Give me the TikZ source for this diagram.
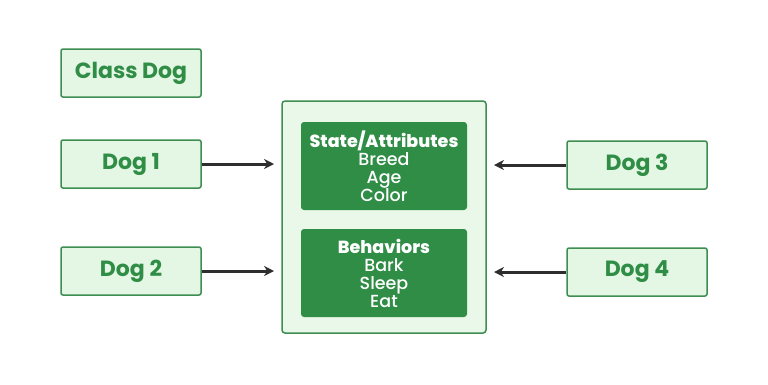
\documentclass[tikz,border=0pt]{standalone}
\usepackage{fontspec}
\setmainfont{Poppins}
\newfontfamily\medfont{Poppins Medium}
\usetikzlibrary{arrows.meta}
\definecolor{gfgreen}{HTML}{2F8D46}
\definecolor{lightfill}{HTML}{E4F6E4}
\definecolor{outerfill}{HTML}{E9F8E9}
\definecolor{bordergreen}{HTML}{3E8E52}
\definecolor{arrowgray}{HTML}{2E2E2E}
\begin{document}
\begin{tikzpicture}[x=1pt,y=-1pt,
  dogbox/.style={draw=bordergreen,fill=lightfill,line width=1.5pt,rounded corners=2pt,
    minimum width=140pt,minimum height=48pt,inner sep=0pt,
    font=\fontsize{22}{24}\selectfont\bfseries,text=gfgreen},
  outerbox/.style={draw=bordergreen,fill=outerfill,line width=1.5pt,rounded corners=3pt,
    minimum width=204pt,minimum height=232pt,inner sep=0pt},
  innerbox/.style={fill=gfgreen,rounded corners=3pt,minimum width=166pt,minimum height=88pt,
    inner sep=0pt,text=white,align=center,font=\fontsize{17.5}{18}\selectfont\medfont},
  arr/.style={draw=arrowgray,line width=3pt,-{Stealth[length=10pt,width=10pt]}}]
\useasboundingbox (0,0) rectangle (768,384);
\fill[white] (0,0) rectangle (768,384);
\node[dogbox] (cls) at (131,73) {Class Dog};
\node[dogbox] (d1) at (131,164) {Dog 1};
\node[dogbox] (d2) at (131,271) {Dog 2};
\node[dogbox] (d3) at (637,165) {Dog 3};
\node[dogbox] (d4) at (637,272) {Dog 4};
\node[outerbox] (outer) at (384,217) {};
\node[innerbox] (state) at (384,166) {\textbf{State/Attributes}\\Breed\\Age\\Color};
\node[innerbox] (beh) at (384,273) {\textbf{Behaviors}\\Bark\\Sleep\\Eat};
\coordinate (a1) at (274,164);
\coordinate (a2) at (274,271);
\coordinate (a3) at (494,165);
\coordinate (a4) at (494,272);
\draw[arr] (d1.east) -- (a1);
\draw[arr] (d2.east) -- (a2);
\draw[arr] (d3.west) -- (a3);
\draw[arr] (d4.west) -- (a4);
\end{tikzpicture}
\end{document}
